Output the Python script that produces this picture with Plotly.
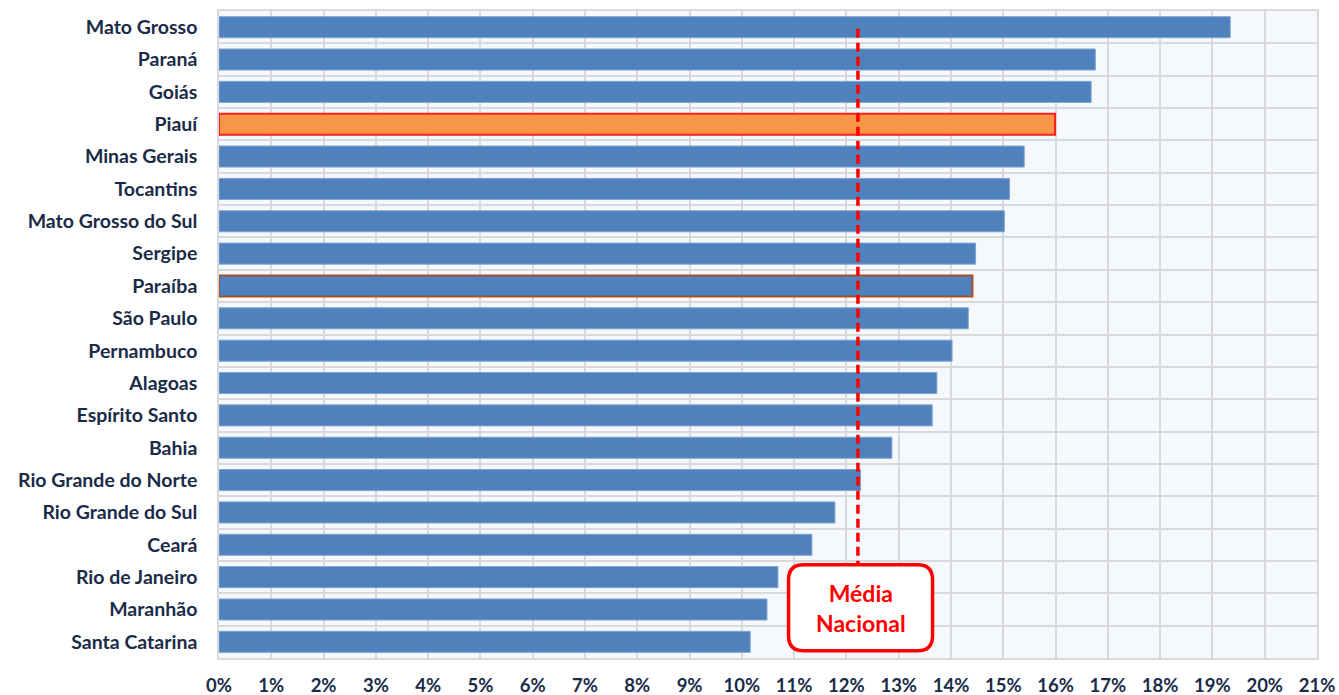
import plotly.graph_objects as go

states = ["Mato Grosso", "Paraná", "Goiás", "Piauí", "Minas Gerais", "Tocantins",
          "Mato Grosso do Sul", "Sergipe", "Paraíba", "São Paulo", "Pernambuco",
          "Alagoas", "Espírito Santo", "Bahia", "Rio Grande do Norte",
          "Rio Grande do Sul", "Ceará", "Rio de Janeiro", "Maranhão", "Santa Catarina"]
values = [19.34, 16.76, 16.68, 15.99, 15.40, 15.12, 15.02, 14.47, 14.41, 14.33,
          14.02, 13.73, 13.64, 12.87, 12.27, 11.78, 11.34, 10.69, 10.48, 10.16]
media_nacional = 12.22
x_ticks = list(range(0, 22))
x_ticktext = [f"{v}%" for v in x_ticks]

fill = ["#F79646" if s == "Piauí" else "#4F81BD" for s in states]
outline = ["#FF1F1F" if s == "Piauí" else ("#A0522D" if s == "Paraíba" else "#7FA3D1") for s in states]
outw = [2 if s in ("Piauí", "Paraíba") else 1 for s in states]

fig = go.Figure()
fig.add_trace(go.Bar(
    x=values, y=states, orientation="h",
    marker=dict(color=fill, line=dict(color=outline, width=outw)),
    hoverinfo="x+y",
))

box_idx = states.index("Maranhão")

# Média Nacional dashed line
fig.add_shape(type="line", xref="x", yref="y",
              x0=media_nacional, x1=media_nacional, y0=0.05, y1=box_idx,
              line=dict(color="#FF0000", width=3.5, dash="9px,5px"), layer="above")

# rounded box (pixel offsets around the anchor)
w2, h2, r = 72, 43, 15
path = (f"M {-w2 + r},{-h2} L {w2 - r},{-h2} Q {w2},{-h2} {w2},{-h2 + r} "
        f"L {w2},{h2 - r} Q {w2},{h2} {w2 - r},{h2} L {-w2 + r},{h2} "
        f"Q {-w2},{h2} {-w2},{h2 - r} L {-w2},{-h2 + r} Q {-w2},{-h2} {-w2 + r},{-h2} Z")
fig.add_shape(type="path", xref="x", yref="y", xsizemode="pixel", ysizemode="pixel",
              xanchor=media_nacional + 0.05, yanchor=box_idx - 0.05, path=path,
              fillcolor="#FFFFFF", line=dict(color="#FF0000", width=3.5), layer="above")
fig.add_annotation(x=media_nacional + 0.05, y=box_idx - 0.05, xref="x", yref="y",
                   text="<b>Média<br>Nacional</b>", showarrow=False,
                   font=dict(family="Lato", size=23, color="#FF0000"))

font_y = dict(family="Lato", size=19.5, color="#1A2B48")
font_x = dict(family="Lato", size=18.5, color="#1A2B48")
fig.update_layout(
    width=1339, height=695,
    margin=dict(l=219, r=22, t=11, b=37),
    paper_bgcolor="#FFFFFF", plot_bgcolor="#F5F8FC",
    bargap=0.35, showlegend=False,
    xaxis=dict(range=[0, 21], tickvals=x_ticks, ticktext=[f"<b>{t}</b>" for t in x_ticktext],
               tickfont=font_x, showgrid=True, gridcolor="#D9D9D9", gridwidth=1.5,
               showline=True, mirror=True, linecolor="#D9D9D9", linewidth=1.5,
               zeroline=False, ticks="", ticklabelstandoff=10, fixedrange=True,
               automargin=False),
    yaxis=dict(type="category", categoryorder="array", categoryarray=states,
               autorange="reversed", tickson="boundaries",
               tickvals=states, ticktext=[f"<b>{s}</b>" for s in states],
               tickfont=font_y, showgrid=True, gridcolor="#D9D9D9", gridwidth=1.5,
               showline=True, mirror=True, linecolor="#D9D9D9", linewidth=1.5,
               ticks="", ticklabelstandoff=16, fixedrange=True, automargin=False),
)

fig.write_html("out.html", config={"displayModeBar": False},
               post_script="document.body.style.margin='0';document.body.style.overflow='hidden';")
